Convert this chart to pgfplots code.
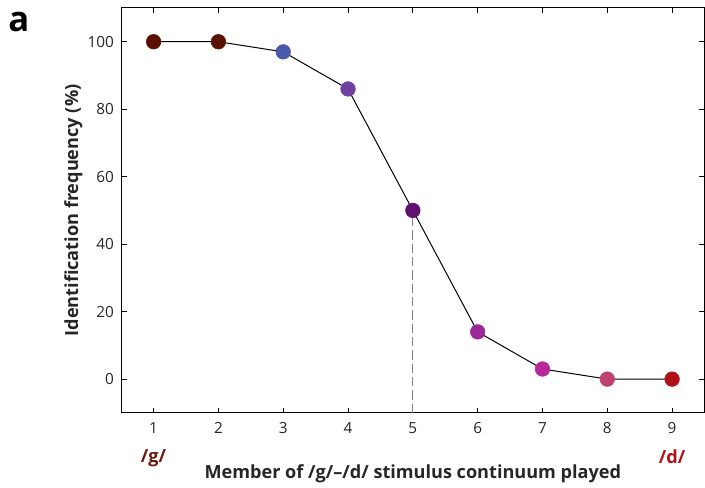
\documentclass[border=0pt]{standalone}
\usepackage{pgfplots}
\pgfplotsset{compat=1.18}
\usepackage{fontspec}
\setmainfont{Open Sans}

\definecolor{cg}{HTML}{5C1000}
\definecolor{cb}{HTML}{4A5AAA}
\definecolor{cv}{HTML}{7040A0}
\definecolor{cp}{HTML}{601070}
\definecolor{cm}{HTML}{9A2898}
\definecolor{cn}{HTML}{B82898}
\definecolor{co}{HTML}{C04070}
\definecolor{cd}{HTML}{B01018}
\definecolor{gtxt}{HTML}{6B1A10}

\begin{document}
\begin{tikzpicture}
\begin{axis}[
    width=438pt, height=304pt,
    scale only axis,
    xmin=0.5, xmax=9.5,
    ymin=-10, ymax=110,
    xtick={1,...,9},
    ytick={0,20,40,60,80,100},
    tick align=inside,
    major tick length=4pt,
    axis line style={line width=0.75pt},
    tick style={line width=0.75pt, black},
    tick label style={font=\fontsize{11.5}{13}\selectfont, text=black!85},
    xticklabel style={yshift=-4pt},
    yticklabel style={xshift=-2pt},
    /pgf/number format/assume math mode=true,
    xlabel={\bfseries Member of /g/--/d/ stimulus continuum played},
    ylabel={\bfseries Identification frequency (\%)},
    label style={font=\fontsize{13.6}{16}\selectfont, text=black!85},
    xlabel style={yshift=-16pt},
    ylabel style={yshift=-3pt},
    clip=false,
    scatter/classes={
        a={mark=*, draw=cg, fill=cg},
        b={mark=*, draw=cb, fill=cb},
        c={mark=*, draw=cv, fill=cv},
        d={mark=*, draw=cp, fill=cp},
        e={mark=*, draw=cm, fill=cm},
        f={mark=*, draw=cn, fill=cn},
        g={mark=*, draw=co, fill=co},
        h={mark=*, draw=cd, fill=cd}},
]
\addplot[gray, dashed, line width=0.75pt, dash pattern=on 7pt off 3pt] coordinates {(5,-10) (5,50)};
\addplot[black, line width=0.75pt, no marks] coordinates {
    (1,100) (2,100) (3,97) (4,86) (5,50) (6,14) (7,3) (8,0) (9,0)};
\addplot[scatter, only marks, mark size=5.5pt, point meta=explicit symbolic]
    table[meta=c] {
x y c
1 100 a
2 100 a
3 97 b
4 86 c
5 50 d
6 14 e
7 3 f
8 0 g
9 0 h
};
\node[font=\fontsize{13.6}{16}\selectfont\bfseries, text=gtxt, anchor=north] at (axis cs:1,-10) [yshift=-24pt] {/g/};
\node[font=\fontsize{13.6}{16}\selectfont\bfseries, text=cd, anchor=north] at (axis cs:9,-10) [yshift=-24pt] {/d/};
\node[font=\fontsize{26}{30}\selectfont\bfseries, anchor=north west, inner sep=0pt] at (rel axis cs:0,1) [xshift=-85pt, yshift=-3pt] {a};
\end{axis}
\path ([xshift=-91pt, yshift=6pt]current axis.north west) coordinate (extent);
\end{tikzpicture}
\end{document}
